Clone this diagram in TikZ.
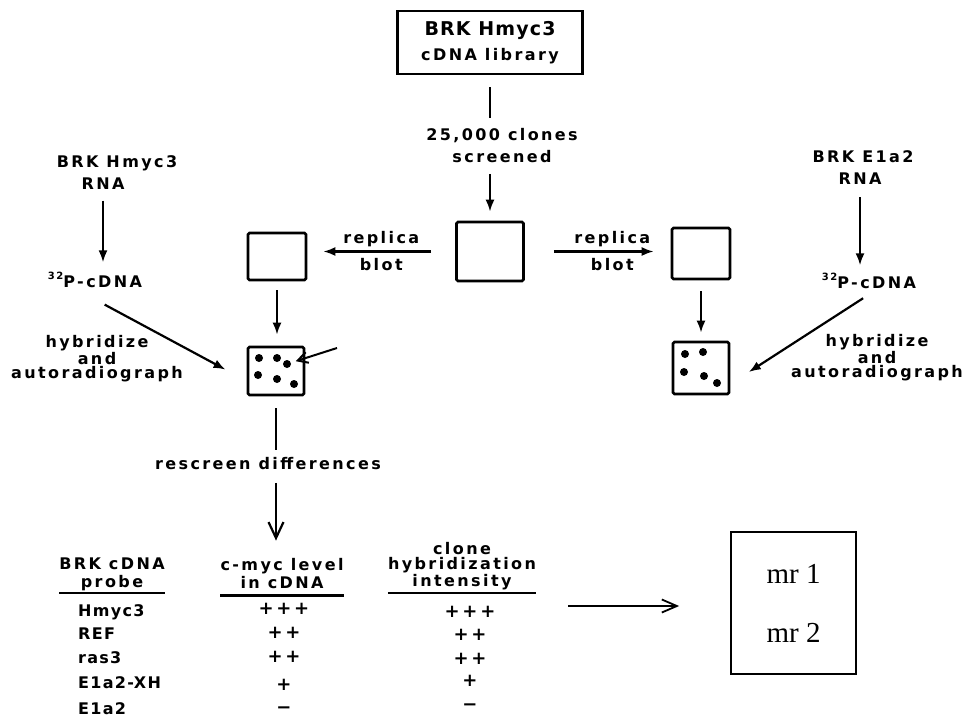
\documentclass[tikz,border=0pt]{standalone}
\usepackage{fontspec}
\newfontfamily\plotfont{DejaVu Sans}[LetterSpace=15]
\newfontfamily\headfont{DejaVu Sans}[LetterSpace=6]
\newfontfamily\rowfont{DejaVu Sans}[LetterSpace=8]
\newfontfamily\mrfont{Liberation Serif}
\usetikzlibrary{arrows.meta}

\begin{document}
\begin{tikzpicture}[x=1pt,y=-1pt,
lbl/.style={inner sep=0pt,align=center,
  font=\plotfont\bfseries\fontsize{16}{14.5}\selectfont},
rowlbl/.style={inner sep=0pt,anchor=west,
  font=\rowfont\bfseries\fontsize{16}{16}\selectfont},
plus/.style={inner sep=0pt,
  font=\plotfont\bfseries\fontsize{18}{18}\selectfont},
blot/.style={draw,line width=2.6pt,rounded corners=1.5pt,inner sep=0pt},
dot/.style={circle,fill,inner sep=0pt,minimum size=8pt},
arr/.style={line width=2.2pt,-{Latex[length=12pt,width=9pt]}},
openarr/.style={line width=2.2pt,-{Straight Barb[length=16pt,width=15pt]}}
]

\useasboundingbox (0,0) rectangle (965,717);

% Library
\node[draw,line width=2.4pt,minimum width=185pt,minimum height=63pt,align=center,
  font=\plotfont\bfseries\fontsize{16}{25.5}\selectfont]
(lib) at (490,42.5)
{{\headfont\fontsize{19}{25.5}\selectfont BRK Hmyc3}\\cDNA library};

\node[lbl,font=\plotfont\bfseries\fontsize{16}{22}\selectfont]
(clones) at (502,146)
{25,000 clones\\screened};

\draw[line width=2.2pt,shorten <=12pt,shorten >=11pt]
(lib.south)
--
(lib.south |- clones.north);

% Master plate and replicas
\node[blot,minimum width=67pt,minimum height=59pt] (master) at (490,251.5) {};
\node[blot,minimum width=58pt,minimum height=47pt] (lrep) at (277,256.5) {};
\node[blot,minimum width=58pt,minimum height=51pt] (rrep) at (701,253.5) {};

\draw[arr,shorten <=10.5pt,shorten >=9pt]
(clones.south -| master)
--
(master.north);

\draw[arr,shorten <=24pt,shorten >=16pt]
(master.west)
-- node[lbl,above=4pt] {replica} node[lbl,below=6pt] {blot}
(master.west -| lrep.east);

\draw[arr,shorten <=29pt,shorten >=17pt]
(master.east)
-- node[lbl,above=4pt,pos=0.6] {replica} node[lbl,below=6pt,pos=0.6] {blot}
(master.east -| rrep.west);

% Autoradiographs
\node[blot,minimum width=56pt,minimum height=48pt] (ldots) at (276,371) {};
\node[blot,minimum width=56pt,minimum height=52pt] (rdots) at (701,368) {};

\foreach \dx/\dy [count=\i] in {-17/-13,1/-13,11/-7,-18/4,1/8,18/13}
  \node[dot] (ld\i) at ([shift={(\dx,\dy)}]ldots.center) {};
\foreach \dx/\dy [count=\i] in {-16/-14,2/-16,-17/4,3/8,16/15}
  \node[dot] (rd\i) at ([shift={(\dx,\dy)}]rdots.center) {};

\draw[arr,shorten <=9pt,shorten >=11pt]
(lrep.south)
--
(lrep.south |- ldots.north);

\draw[arr,shorten <=11pt,shorten >=8pt]
(rrep.south)
--
(rrep.south |- rdots.north);

\coordinate (hit) at (337,348);
\draw[line width=2pt,-{Straight Barb[length=10pt,width=11pt]},shorten >=5pt]
(hit)
--
(ld3);

% Hmyc3 probe
\node[lbl] (lbrk) at (117,163) {BRK Hmyc3};
\node[lbl] (lrna) at (103,184) {RNA};
\node[lbl,anchor=base] (lp) at (95,287)
{\raisebox{8pt}{\fontsize{10}{10}\selectfont 32}P-cDNA};
\node[lbl] (lhyb) at (97,359) {hybridize\\and\\autoradiograph};

\draw[arr,shorten <=10.5pt,shorten >=9pt]
(lrna.south)
--
(lrna.south |- lp.north);

\draw[arr,shorten <=11pt,shorten >=24pt]
([yshift=-12pt]lp.south)
--
([yshift=-10pt]ldots.west);

% E1a2 probe
\node[lbl] (rbrk) at (863,157) {BRK E1a2};
\node[lbl] (rrna) at (860,179) {RNA};
\node[lbl,anchor=base] (rp) at (869,288)
{\raisebox{8pt}{\fontsize{10}{10}\selectfont 32}P-cDNA};
\node[lbl] (rhyb) at (877,358) {hybridize\\and\\autoradiograph};

\draw[arr,shorten <=12pt,shorten >=7pt]
(rrna.south)
--
(rrna.south |- rp.north);

\draw[arr,shorten <=7pt,shorten >=22pt]
([yshift=-6pt]rp.south)
--
([yshift=-16pt]rdots.east);

% Rescreen
\node[lbl] (rescreen) at (268,464) {rescreen differences};

\draw[line width=2.2pt,shorten <=12pt,shorten >=8pt]
(ldots.south)
--
(ldots.south |- rescreen.north);

% Table
\node[lbl,font=\plotfont\bfseries\fontsize{16}{18}\selectfont]
(hprobe) at (112,574) {BRK cDNA\\probe};
\node[lbl,font=\plotfont\bfseries\fontsize{16}{18}\selectfont]
(hlevel) at (282,574) {c-myc level\\in cDNA};
\node[lbl,font=\plotfont\bfseries\fontsize{16}{15}\selectfont]
(hint) at (462,566) {clone\\hybridization\\intensity};

\draw[openarr,shorten <=12.5pt,shorten >=18pt]
(rescreen.south -| ldots.south)
--
(hlevel.north -| ldots.south);

\draw[line width=2.2pt]
([yshift=-2pt]hprobe.south west) -- ([yshift=-2pt]hprobe.south east);
\draw[line width=2.2pt]
([yshift=-6pt]hlevel.south west) -- ([yshift=-6pt]hlevel.south east);
\draw[line width=2.2pt]
([yshift=-3pt]hint.south west) -- ([yshift=-3pt]hint.south east);

\foreach \lab/\sa/\sb/\ya/\yb/\yc [count=\i] in
  {Hmyc3/+++/+++/612/609/612,
   REF/++/++/634/633/635,
   ras3/++/++/658/657/659,
   E1a2-XH/+/+/683/685/681,
   E1a2/−/−/709/710/707}
{
  \node[rowlbl] (probe\i) at (78,\ya) {\lab};
  \node[plus] (level\i) at (284,\yb) {\sa};
  \node[plus] (int\i) at (470,\yc) {\sb};
}

% Result
\node[draw,line width=1.8pt,minimum width=125pt,minimum height=142pt,align=center,
  font=\mrfont\fontsize{29}{59}\selectfont]
(mr) at (793.5,603)
{mr 1\\mr 2};

\coordinate (tabout) at (568,606);
\draw[line width=1.8pt,-{Straight Barb[length=15pt,width=13pt]},shorten >=51pt]
(tabout)
--
(tabout -| mr.west);

\end{tikzpicture}
\end{document}
